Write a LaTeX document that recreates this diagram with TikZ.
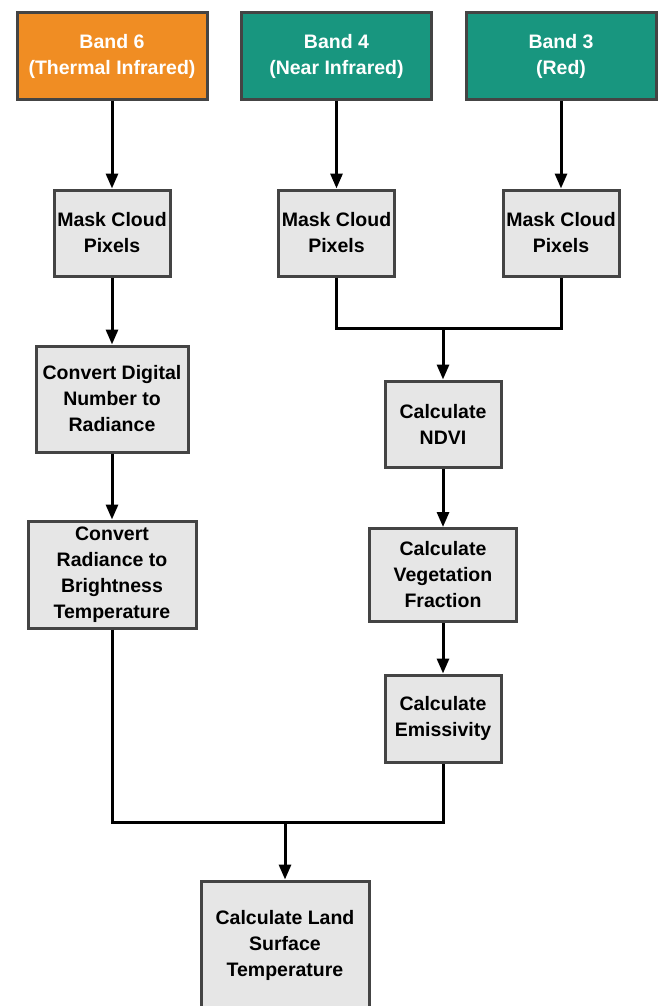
\documentclass[tikz,border=0pt]{standalone}
\usepackage{fontspec}
\setmainfont{Liberation Sans}
\usetikzlibrary{positioning,arrows.meta,calc}
\definecolor{bandorange}{HTML}{F08D23}
\definecolor{bandteal}{HTML}{18967F}
\definecolor{boxgrey}{HTML}{E6E6E6}
\definecolor{edgegrey}{HTML}{444444}

\begin{document}
\begin{tikzpicture}[x=1pt, y=-1pt, font=\bfseries\fontsize{19.5}{26}\selectfont,
  band/.style={draw=edgegrey, line width=3pt, text=white, minimum width=190pt, minimum height=87pt, align=center, inner sep=0pt},
  stepbox/.style={draw=edgegrey, line width=3pt, fill=boxgrey, align=center, inner sep=0pt},
  flow/.style={-{Triangle[length=15pt,width=12pt]}, line width=3pt},
  link/.style={line width=3pt}]
  \path[use as bounding box, clip] (0,0) rectangle (664,1006);
  % input bands
  \node[band, fill=bandorange] (b6) at (112,56) {Band 6\\(Thermal Infrared)};
  \node[band, fill=bandteal] (b4) at (336.5,56) {Band 4\\(Near Infrared)};
  \node[band, fill=bandteal] (b3) at (561,56) {Band 3\\(Red)};
  % cloud masks
  \foreach \x/\name in {112/m6,336.5/m4,561/m3}
    \node[stepbox, minimum width=116pt, minimum height=86pt] (\name) at (\x,233) {Mask Cloud\\Pixels};
  % thermal branch
  \node[stepbox, minimum width=152pt, minimum height=106pt] (dn) at (112,399) {Convert Digital\\Number to\\Radiance};
  \node[stepbox, minimum width=168pt, minimum height=107pt] (bt) at (112,574.5) {Convert\\Radiance to\\Brightness\\Temperature};
  % vegetation branch
  \node[stepbox, minimum width=116pt, minimum height=86pt] (ndvi) at (443,424) {Calculate\\NDVI};
  \node[stepbox, minimum width=147pt, minimum height=93pt] (fv) at (443,575) {Calculate\\Vegetation\\Fraction};
  \node[stepbox, minimum width=116pt, minimum height=87pt] (emis) at (443,718.5) {Calculate\\Emissivity};
  % result
  \node[stepbox, minimum width=168pt, minimum height=128pt] (lst) at (285,945) {Calculate Land\\Surface\\Temperature};
  \coordinate (j1) at (443,328);
  \coordinate (j2) at (285,822);
  \foreach \a/\b in {b6/m6,b4/m4,b3/m3,m6/dn,dn/bt,ndvi/fv,fv/emis}
    \draw[flow] (\a) -- (\b);
  \draw[link] (m4.south) |- (j1) -| (m3.south);
  \draw[flow] (j1) -- (ndvi);
  \draw[link] (bt.south) |- (j2) -| (emis.south);
  \draw[flow] (j2) -- (lst);
\end{tikzpicture}
\end{document}
